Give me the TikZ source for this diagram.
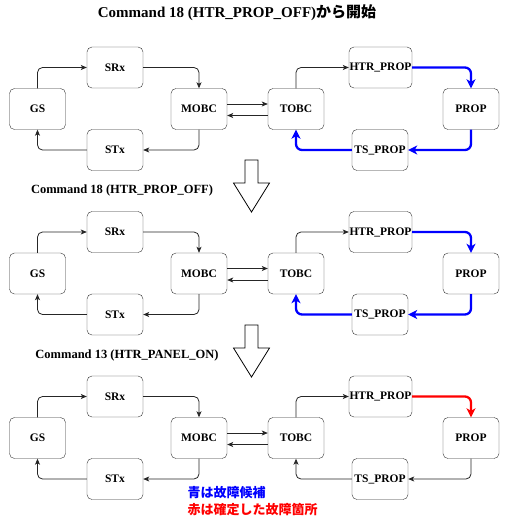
\documentclass[tikz,border=0pt]{standalone}
\usepackage{fontspec}
\setmainfont{Liberation Serif}
\newfontfamily\jpfont{Noto Sans CJK JP}
\usepackage{tikz}
\usetikzlibrary{arrows.meta}
\usetikzlibrary{calc}

% one row of the system: #1 prefix, #2 row centre, #3 HTR_PROP -> PROP, #4 PROP -> TS_PROP -> TOBC
\newcommand{\sysrow}[4]{%
  \node[box] (#1GS)   at (37.5,#2)       {GS};
  \node[box] (#1SRx)  at (115,#2-41.5)   {SRx};
  \node[box] (#1MOBC) at (199,#2)        {MOBC};
  \node[box] (#1STx)  at (115,#2+41)     {STx};
  \node[box] (#1TOBC) at (296,#2)        {TOBC};
  \node[box, minimum width=63pt] (#1HTR) at (380.5,#2-41.5) {HTR\_PROP};
  \node[box] (#1PROP) at (471,#2)        {PROP};
  \node[box] (#1TS)   at (380,#2+41)     {TS\_PROP};
  %
  \draw[link] (#1GS.north) |- (#1SRx.west);
  \draw[link] (#1SRx.east) -| (#1MOBC.north);
  \draw[link] (#1MOBC.south) |- (#1STx.east);
  \draw[link] (#1STx.west) -| (#1GS.south);
  \draw[link] ([yshift=5pt]#1MOBC.east) -- ([yshift=5pt]#1TOBC.west);
  \draw[link] ([yshift=-6.5pt]#1TOBC.east -| #1TOBC.west) -- ([yshift=-6.5pt]#1MOBC.east);
  \draw[link] (#1TOBC.north) |- (#1HTR.west);
  \draw[#3] (#1HTR.east) -| (#1PROP.north);
  \draw[#4] (#1PROP.south) |- (#1TS.east);
  \draw[#4] (#1TS.west) -| (#1TOBC.south);
}

\begin{document}
\begin{tikzpicture}[x=1pt, y=-1pt,
    box/.style={draw=black!80, rounded corners=5pt, minimum width=56pt,
      minimum height=41pt, inner sep=0pt,
      font=\fontsize{11.5}{12}\selectfont\bfseries},
    link/.style={draw=black!85, line width=0.8pt, rounded corners=5pt,
      -{Stealth[length=6pt, width=5pt, inset=1.5pt]}},
    fault/.style={line width=2.3pt, rounded corners=6pt,
      -{Stealth[length=9pt, width=9pt, inset=2.5pt]}},
    cand/.style={fault, draw=blue},
    found/.style={fault, draw=red},
    step label/.style={font=\fontsize{12.5}{14}\selectfont\bfseries},
    bigarrow/.style={draw=black, line width=0.8pt, fill=white}]

  \useasboundingbox (0,0) rectangle (507,520);

  % Title
  \node[font=\fontsize{15}{17}\selectfont\bfseries] (title) at (237,13)
    {Command 18 (HTR\_PROP\_OFF){\jpfont\bfseries から開始}};

  % Rows
  \sysrow{a}{109}{cand}{cand}
  \sysrow{b}{273.5}{cand}{cand}
  \sysrow{c}{438}{found}{link}

  % Steps between the rows
  \node[step label] (cmdA) at (122,190) {Command 18 (HTR\_PROP\_OFF)};
  \node[step label] (cmdB) at (127,355) {Command 13 (HTR\_PANEL\_ON)};

  \draw[bigarrow, shift={(251.5,160)}]
    (-6.5,0) -- (6.5,0) -- (6.5,23) -- (18,23) -- (0,52) -- (-18,23) -- (-6.5,23) -- cycle;
  \draw[bigarrow, shift={(251.5,325)}]
    (-6.5,0) -- (6.5,0) -- (6.5,23) -- (18,23) -- (0,52) -- (-18,23) -- (-6.5,23) -- cycle;

  % Legend
  \node[anchor=west, text=blue, font=\jpfont\fontsize{13}{15}\selectfont\bfseries]
    (legBlue) at (184,493) {青は故障候補};
  \node[anchor=west, text=red, font=\jpfont\fontsize{13}{15}\selectfont\bfseries]
    (legRed) at (184,510) {赤は確定した故障箇所};

\end{tikzpicture}
\end{document}
